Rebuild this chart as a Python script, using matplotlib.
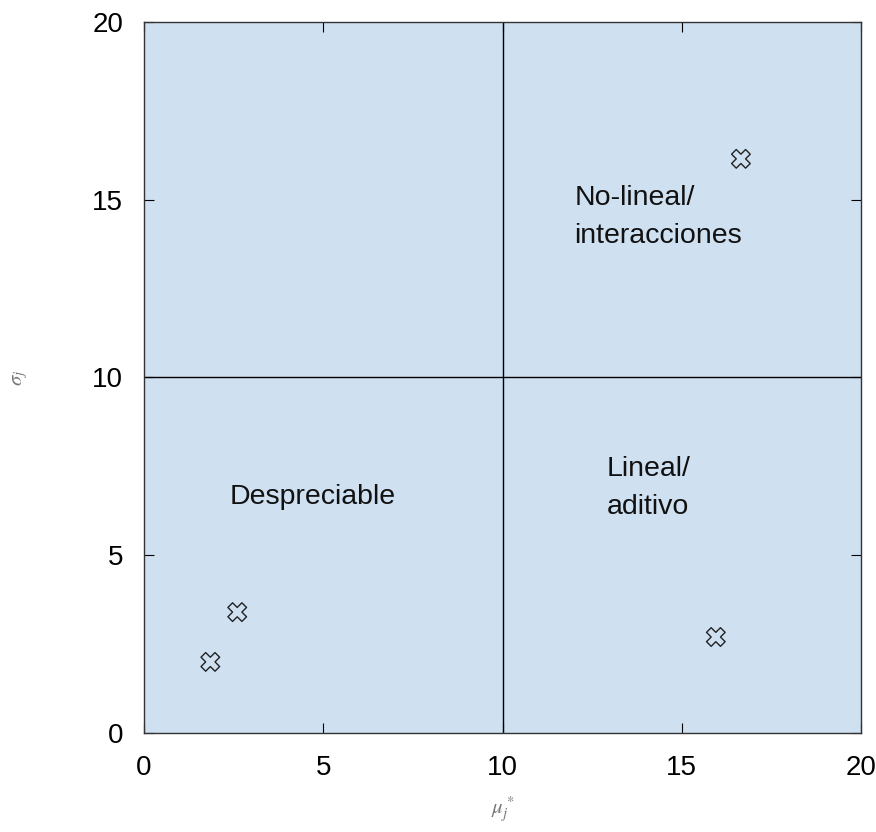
import matplotlib.pyplot as plt

plt.rcParams['font.family'] = ['Liberation Sans', 'DejaVu Sans']
plt.rcParams['mathtext.fontset'] = 'stix'

# Screening results (Morris method)
mu_star = [1.85, 2.6, 15.95, 16.65]
sigma = [2.0, 3.4, 2.7, 16.15]

region_labels = ['Despreciable', 'Lineal/\naditivo', 'No-lineal/\ninteracciones']
label_x = [2.4, 12.9, 12.0]
label_y = [6.65, 6.88, 14.5]

ticks = [0, 5, 10, 15, 20]

fig = plt.figure(figsize=(8.76, 8.32), dpi=100)
ax = fig.add_axes([0.1644, 0.1190, 0.8185, 0.8546])
ax.set_facecolor('#cfe0f1')

ax.axvline(10, color='black', lw=1)
ax.axhline(10, color='black', lw=1)

ax.scatter(mu_star, sigma, marker='X', s=180, facecolors='none',
           edgecolors='#222222', linewidths=1.0, zorder=3)

for txt, x, y in zip(region_labels, label_x, label_y):
    ax.text(x, y, txt, ha='left', va='center', fontsize=20.5, color='#111111',
            linespacing=1.6)

ax.set_xlim(0, 20)
ax.set_ylim(0, 20)
ax.set_xticks(ticks)
ax.set_yticks(ticks)
ax.tick_params(direction='in', top=True, right=True, length=7, width=0.8,
               labelsize=20, pad=15)
ax.tick_params(axis='x', pad=16)
for s in ax.spines.values():
    s.set_linewidth(1.0)
    s.set_color('#333333')

ax.set_xlabel(r'$\mu_j^*$', fontsize=15, color='#777777', labelpad=10)
ax.set_ylabel(r'$\sigma_j$', fontsize=15, color='#777777', labelpad=45)

fig.savefig('out.png', dpi=100)
